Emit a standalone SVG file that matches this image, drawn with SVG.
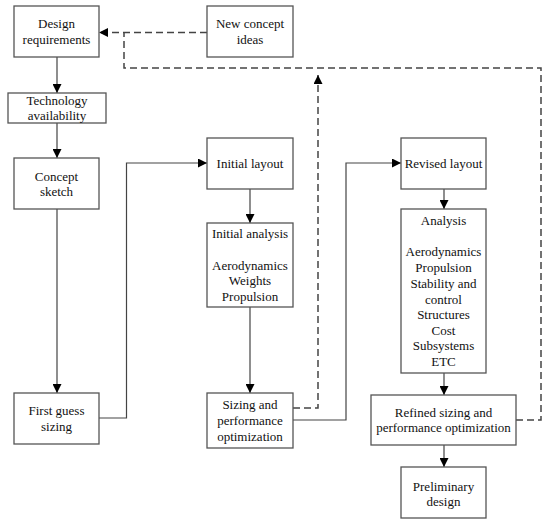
<svg xmlns="http://www.w3.org/2000/svg" width="550" height="526" viewBox="0 0 550 526">
<defs>
<marker id="ah" markerWidth="9" markerHeight="9" refX="9" refY="4.5" orient="auto" markerUnits="userSpaceOnUse">
<path d="M0,0 L9,4.5 L0,9 z" fill="#000"/>
</marker>
</defs>
<style>
.box{fill:#fff;stroke:#555;stroke-width:1.3}
.t{font-family:"Liberation Serif","Times New Roman",serif;font-size:13px;fill:#111;text-anchor:middle}
.c{fill:none;stroke:#444;stroke-width:1.2}
.d{fill:none;stroke:#444;stroke-width:1.5;stroke-dasharray:7 4}
</style>
<rect width="550" height="526" fill="#fff"/>
<g id="connectors">
<path class="c" d="M57,57 V93" marker-end="url(#ah)"/>
<path class="c" d="M57,123 V158" marker-end="url(#ah)"/>
<path class="c" d="M57,209 V393" marker-end="url(#ah)"/>
<path class="c" d="M99,418 H126.5 V163 H207" marker-end="url(#ah)"/>
<path class="c" d="M250,189 V223" marker-end="url(#ah)"/>
<path class="c" d="M250,307 V393" marker-end="url(#ah)"/>
<path class="c" d="M293,420 H346 V163 H401" marker-end="url(#ah)"/>
<path class="c" d="M444,189 V209" marker-end="url(#ah)"/>
<path class="c" d="M444,373 V395" marker-end="url(#ah)"/>
<path class="c" d="M444,445 V467" marker-end="url(#ah)"/>
<path class="d" d="M207,32.5 H99" marker-end="url(#ah)"/>
<path class="d" d="M516,420 H541 V68 H124 V32.5"/>
<path class="d" d="M293,408 H318 V75" marker-end="url(#ah)"/>
</g>
<g id="design-requirements">
<rect class="box" x="14" y="6" width="85" height="51"/>
<text class="t" x="56.5" y="28">Design</text>
<text class="t" x="56.5" y="44">requirements</text>
</g>
<g id="new-concept-ideas">
<rect class="box" x="207" y="6" width="86" height="51"/>
<text class="t" x="250" y="28">New concept</text>
<text class="t" x="250" y="44">ideas</text>
</g>
<g id="technology-availability">
<rect class="box" x="8" y="93" width="98" height="30"/>
<text class="t" x="57" y="104.5">Technology</text>
<text class="t" x="57" y="119.5">availability</text>
</g>
<g id="concept-sketch">
<rect class="box" x="14" y="158" width="85" height="51"/>
<text class="t" x="56.5" y="180.5">Concept</text>
<text class="t" x="56.5" y="196">sketch</text>
</g>
<g id="first-guess-sizing">
<rect class="box" x="14" y="393" width="85" height="51"/>
<text class="t" x="56.5" y="415">First guess</text>
<text class="t" x="56.5" y="431">sizing</text>
</g>
<g id="initial-layout">
<rect class="box" x="207" y="138" width="86" height="51"/>
<text class="t" x="250" y="168">Initial layout</text>
</g>
<g id="initial-analysis">
<rect class="box" x="207" y="223" width="86" height="84"/>
<text class="t" x="250" y="238">Initial analysis</text>
<text class="t" x="250" y="269.5">Aerodynamics</text>
<text class="t" x="250" y="285">Weights</text>
<text class="t" x="250" y="301">Propulsion</text>
</g>
<g id="sizing-performance">
<rect class="box" x="207" y="393" width="86" height="55"/>
<text class="t" x="250" y="408.5">Sizing and</text>
<text class="t" x="250" y="425">performance</text>
<text class="t" x="250" y="440.5">optimization</text>
</g>
<g id="revised-layout">
<rect class="box" x="401" y="138" width="85" height="51"/>
<text class="t" x="443.5" y="167.5">Revised layout</text>
</g>
<g id="analysis">
<rect class="box" x="401" y="209" width="85" height="164"/>
<text class="t" x="443.5" y="224.5">Analysis</text>
<text class="t" x="443.5" y="256">Aerodynamics</text>
<text class="t" x="443.5" y="272">Propulsion</text>
<text class="t" x="443.5" y="288">Stability and</text>
<text class="t" x="443.5" y="303.5">control</text>
<text class="t" x="443.5" y="319">Structures</text>
<text class="t" x="443.5" y="335">Cost</text>
<text class="t" x="443.5" y="350">Subsystems</text>
<text class="t" x="443.5" y="366">ETC</text>
</g>
<g id="refined-sizing">
<rect class="box" x="371" y="395" width="145" height="50"/>
<text class="t" x="443.5" y="417">Refined sizing and</text>
<text class="t" x="443.5" y="432">performance optimization</text>
</g>
<g id="preliminary-design">
<rect class="box" x="401" y="467" width="85" height="51"/>
<text class="t" x="443.5" y="491">Preliminary</text>
<text class="t" x="443.5" y="505.5">design</text>
</g>
</svg>
